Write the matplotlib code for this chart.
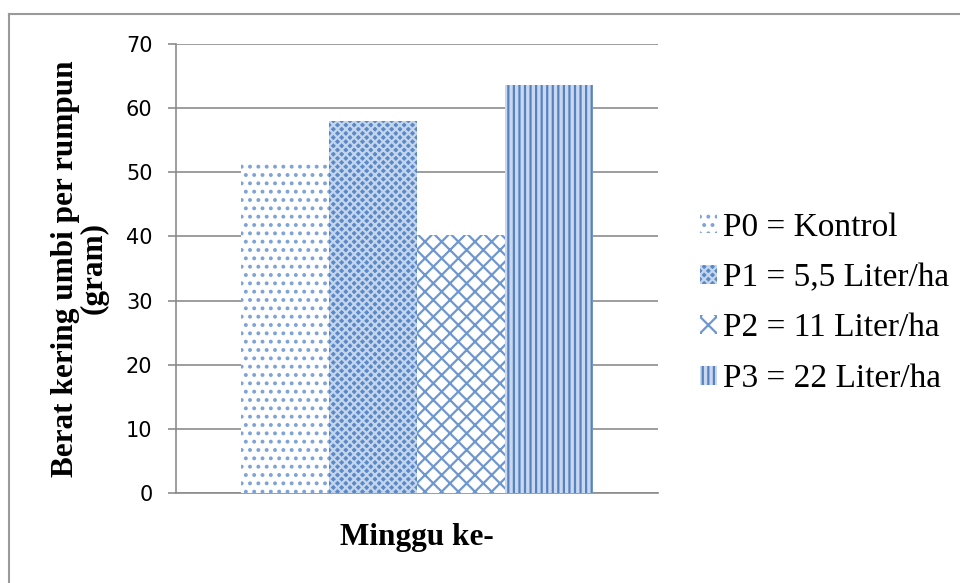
import matplotlib
matplotlib.use("Agg")
import matplotlib.pyplot as plt
from matplotlib.lines import Line2D
import numpy as np

categories = ["Minggu ke-"]
series_labels = ["P0 = Kontrol", "P1 = 5,5 Liter/ha", "P2 = 11 Liter/ha", "P3 = 22 Liter/ha"]
values = [51.6, 58.0, 40.2, 63.6]
yticks = [0, 10, 20, 30, 40, 50, 60, 70]

faces = ["white", "#5B89C6", "white", "#C9D8EE"]
hatchcols = ["#7FA3D6", "#C4D5EE", "#6F97CF", "#5683C0"]
hatches = ["..", "xxxx", "xx", "|||"]

plt.rcParams['hatch.linewidth'] = 1.6

W, H = 960, 583
fig = plt.figure(figsize=(W/100, H/100), dpi=100)
L, R, T, B = 176, 658, 44, 493
ax = fig.add_axes([L/W, 1 - B/H, (R-L)/W, (B-T)/H])

n = len(values)
bw = 88 / (R - L)
offsets = (np.arange(n) - (n - 1) / 2) * bw
for i in range(n):
    ax.bar(offsets[i], values[i], width=bw, facecolor=faces[i],
           edgecolor=hatchcols[i], hatch=hatches[i], linewidth=0,
           label=series_labels[i], zorder=3)

ax.set_xlim(-0.5, 0.5)
ax.set_ylim(0, 70)
ax.set_yticks(yticks)
ax.set_yticklabels([str(t) for t in yticks], fontsize=15, family="DejaVu Sans")
ax.set_xticks([])
ax.grid(axis='y', color='#8C8C8C', linewidth=1.2, zorder=0)
for s in ['top', 'right']:
    ax.spines[s].set_visible(False)
for s in ['left', 'bottom']:
    ax.spines[s].set_color('#8C8C8C')
    ax.spines[s].set_linewidth(1.2)
ax.tick_params(axis='y', length=6, color='#8C8C8C', width=1.2, pad=11)

ax.set_ylabel("Berat kering umbi per rumpun\n(gram)", family="Liberation Serif",
              fontweight='bold', fontsize=22.5, linespacing=1.0, labelpad=10)
ax.yaxis.set_label_coords(-(L - 80) / (R - L), 0.5)
ax.set_xlabel(categories[0], family="Liberation Serif", fontweight='bold',
              fontsize=22.5)
ax.xaxis.set_label_coords(0.5, -(538 - B) / (B - T), transform=ax.transAxes)
ax.xaxis.label.set_va('center')
ax.yaxis.label.set_va('center')

leg = ax.legend(loc='center left', bbox_to_anchor=(700/W, 1 - 303/H),
                bbox_transform=fig.transFigure, frameon=False,
                prop={'family': 'Liberation Serif', 'size': 24},
                handlelength=0.5, handleheight=0.5, handletextpad=0.2,
                labelspacing=0.6, borderaxespad=0, borderpad=0)

fig.add_artist(Line2D([9/W, 1.0], [1 - 14/H, 1 - 14/H],
                      transform=fig.transFigure, color='#9A9A9A', linewidth=1.5))
fig.add_artist(Line2D([9/W, 9/W], [0, 1 - 14/H],
                      transform=fig.transFigure, color='#9A9A9A', linewidth=1.5))

fig.savefig("out.png", dpi=100)
